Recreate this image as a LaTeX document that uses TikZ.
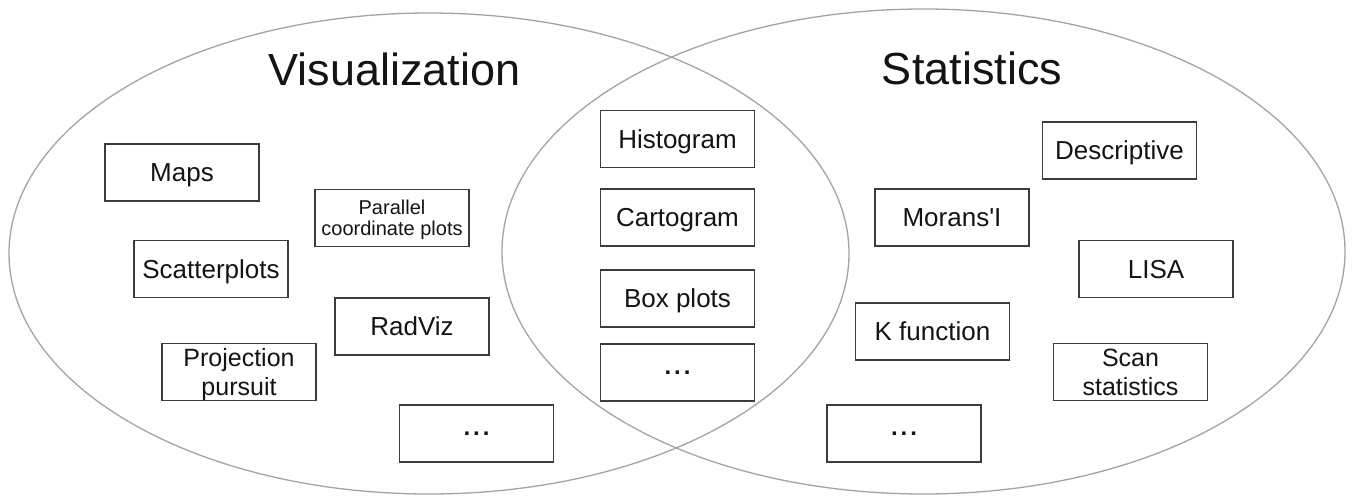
\documentclass[tikz,border=0pt]{standalone}
\usepackage{fontspec}
\setmainfont{Liberation Sans}
\usetikzlibrary{shapes.geometric}

\definecolor{ringgray}{HTML}{A4A4A4}
\definecolor{boxgray}{HTML}{3C3C3C}
\definecolor{inkgray}{HTML}{141414}

% spaced ellipsis used in the open-ended boxes
\newcommand{\moredots}{.\kern3pt.\kern3pt.}

\tikzset{
  ring/.style={draw=ringgray, line width=1.3pt, ellipse, inner sep=0pt},
  heading/.style={font=\fontsize{45}{50}\selectfont, text=inkgray, text depth=0pt, inner sep=0pt},
  framed/.style={draw=boxgray, line width=1.6pt, rectangle, minimum width=154pt,
                 minimum height=57pt, inner sep=0pt, text=inkgray},
  item/.style={framed, font=\fontsize{26}{30}\selectfont, text depth=0pt, align=center},
  twoline/.style={item, font=\fontsize{25}{29}\selectfont},
  smallitem/.style={item, font=\fontsize{20}{20.5}\selectfont},
  more/.style={framed, font=\bfseries\fontsize{24}{28}\selectfont}
}

\begin{document}
\begin{tikzpicture}[x=1pt, y=-1pt]
  \useasboundingbox (0,0) rectangle (1355,498);
  \fill[white] (0,0) rectangle (1355,498);

  % the two overlapping sets
  \node[ring, minimum width=840pt, minimum height=481pt] (vis)  at (429,253.5) {};
  \node[ring, minimum width=843pt, minimum height=485pt] (stat) at (923.5,251.5) {};

  % set titles
  \node[heading] (vistitle)  at (394.5,69) {Visualization};
  \node[heading] (stattitle) at (972,68)   {Statistics};

  % visualization methods
  \node[item]      (maps)     at (182,172.5)  {Maps};
  \node[smallitem] (parallel) at (392,218)    {Parallel\\coordinate plots};
  \node[item]      (scatter)  at (211,269)    {Scatterplots};
  \node[item]      (radviz)   at (412,326.5)  {RadViz};
  \node[twoline]   (proj)     at (239,372)    {Projection\\pursuit};
  \node[more]      (vismore)  at (476.5,433.5) {\moredots};

  % shared methods
  \node[item] (hist)     at (677.5,139)   {Histogram};
  \node[item] (carto)    at (677.5,217.5) {Cartogram};
  \node[item] (boxplots) at (677.5,298.5) {Box plots};
  \node[more] (bothmore) at (677.5,372.5) {\moredots};

  % statistical methods
  \node[item]    (descr)    at (1119.5,150.5) {Descriptive};
  \node[item]    (moran)    at (952,217.5)    {Morans\textquotesingle I};
  \node[item]    (lisa)     at (1156,269)     {LISA};
  \node[item]    (kfun)     at (932.5,331.5)  {K function};
  \node[twoline] (scan)     at (1130.5,372)   {Scan\\statistics};
  \node[more]    (statmore) at (904,433.5)    {\moredots};
\end{tikzpicture}
\end{document}
